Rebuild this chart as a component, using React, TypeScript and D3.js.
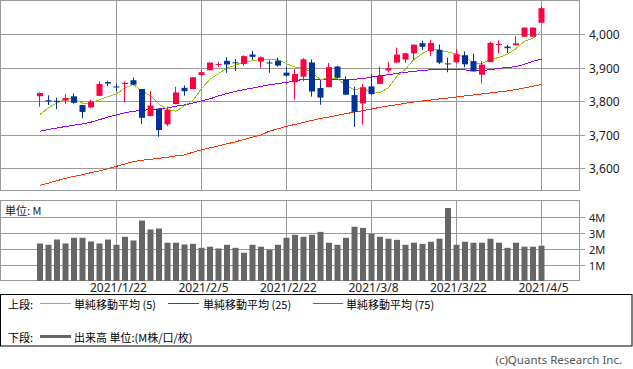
import React from "react";
import * as d3 from "d3";

const dates = ["1/8","1/11","1/12","1/13","1/14","1/15","1/19","1/20","1/21","1/22","1/25","1/26","1/27","1/28","1/29","2/1","2/2","2/3","2/4","2/5","2/8","2/9","2/10","2/11","2/12","2/16","2/17","2/18","2/19","2/22","2/23","2/24","2/25","2/26","3/1","3/2","3/3","3/4","3/5","3/8","3/9","3/10","3/11","3/12","3/15","3/16","3/17","3/18","3/19","3/22","3/23","3/24","3/25","3/26","3/29","3/30","3/31","4/1","4/2","4/5"];

const opens = [3815.05,3803.14,3801.62,3802.23,3814.98,3788.73,3781.88,3816.22,3857.46,3844.24,3851.68,3862.96,3836.83,3755.75,3778.05,3731.17,3791.84,3840.27,3836.66,3878.30,3892.59,3910.49,3920.78,3916.40,3911.65,3939.61,3918.50,3915.86,3921.16,3885.55,3857.07,3873.71,3915.80,3839.66,3842.51,3903.64,3863.99,3818.53,3793.58,3844.39,3851.93,3891.99,3915.54,3924.52,3942.96,3973.59,3949.57,3953.50,3913.14,3916.48,3937.60,3919.93,3879.34,3917.12,3969.31,3963.34,3967.25,3992.78,3992.78,4034.44];
const highs = [3826.69,3817.86,3810.78,3820.96,3823.60,3788.73,3804.53,3859.75,3861.45,3852.31,3859.23,3870.90,3836.83,3830.50,3778.05,3784.32,3843.09,3847.51,3872.42,3894.56,3915.77,3918.35,3931.50,3925.99,3937.23,3950.43,3933.61,3921.98,3930.41,3902.92,3895.98,3928.65,3925.02,3861.08,3914.50,3906.41,3874.47,3843.67,3851.69,3881.06,3903.76,3917.35,3960.27,3944.99,3970.08,3981.04,3983.87,3969.62,3930.12,3955.31,3949.13,3942.08,3919.54,3978.19,3981.83,3968.01,3994.41,4020.63,4020.63,4083.42];
const lows = [3783.60,3789.02,3776.51,3791.50,3792.86,3749.62,3780.37,3816.22,3845.05,3830.41,3797.16,3847.78,3732.48,3755.75,3694.12,3725.62,3791.84,3816.68,3836.66,3874.93,3892.59,3902.64,3884.94,3890.39,3905.78,3923.85,3900.43,3885.03,3903.07,3874.71,3805.59,3859.60,3814.04,3789.54,3842.51,3868.57,3818.86,3723.34,3730.19,3819.25,3851.93,3885.73,3915.54,3915.21,3923.54,3953.44,3935.74,3910.86,3886.75,3914.16,3901.57,3889.06,3853.50,3917.12,3943.25,3944.35,3966.98,3992.78,3992.78,4034.44];
const closes = [3824.68,3799.61,3801.19,3809.84,3795.54,3768.25,3798.91,3851.85,3853.07,3841.47,3855.36,3849.62,3750.77,3787.38,3714.24,3773.86,3826.31,3830.17,3871.74,3886.83,3915.59,3911.23,3909.88,3916.38,3934.83,3932.59,3931.33,3913.97,3906.71,3876.50,3881.37,3925.43,3829.34,3811.15,3901.82,3870.29,3819.72,3768.47,3841.94,3821.35,3875.44,3898.81,3939.34,3943.34,3968.94,3962.71,3974.12,3915.46,3913.10,3940.59,3910.52,3889.14,3909.52,3974.54,3971.09,3958.55,3972.89,4019.87,4019.87,4077.91];

const ma5 = [3760.8,3780.6,3795.5,3807.8,3806.2,3794.9,3794.7,3804.9,3813.5,3822.7,3840.1,3850.3,3830.1,3816.9,3791.5,3775.2,3770.5,3786.4,3803.3,3837.8,3866.1,3883.1,3899.1,3908.0,3917.6,3921.0,3925.0,3925.8,3923.9,3912.2,3902.0,3900.8,3883.9,3864.8,3869.8,3867.6,3846.5,3834.3,3840.4,3824.4,3825.4,3841.2,3875.4,3895.7,3925.2,3942.6,3957.7,3952.9,3946.9,3941.2,3930.8,3913.8,3912.6,3924.9,3931.0,3940.6,3957.3,3979.4,3988.5,4009.8];
const ma25 = [3710.8,3716.1,3720.2,3724.9,3728.6,3732.4,3737.7,3745.2,3753.4,3759.3,3765.5,3770.6,3772.2,3775.9,3777.0,3780.3,3785.3,3789.1,3794.9,3801.0,3807.4,3815.9,3823.2,3829.9,3835.1,3839.5,3844.7,3849.2,3853.1,3856.4,3860.9,3865.9,3865.0,3863.4,3865.8,3866.4,3865.2,3865.9,3868.1,3872.4,3876.4,3879.3,3883.7,3886.5,3889.8,3891.7,3894.2,3894.5,3894.3,3894.6,3893.7,3892.0,3891.8,3894.5,3898.3,3901.4,3903.3,3910.9,3919.3,3926.3];
const ma75 = [3549.5,3556,3563,3570,3576,3581,3587,3592,3599,3606,3613,3620,3624,3627,3630,3633,3637,3640,3648,3655,3661,3667,3673,3679,3686,3693,3699,3711,3718,3725,3731,3737,3743,3749,3753,3758,3763,3768,3772,3777,3782,3786,3790,3794,3798,3801,3804,3807,3810,3813,3816,3819,3822,3825,3828,3831,3835,3840,3845,3850];

const volumes = [2.35,2.27,2.6,2.35,2.71,2.71,2.48,2.35,2.6,2.27,2.77,2.54,3.79,3.23,3.29,2.4,2.4,2.29,2.33,2.08,2.15,2.04,2.27,2.08,1.77,2.27,2.15,1.96,2.27,2.71,2.9,2.77,2.9,3.08,2.4,2.27,2.71,3.4,3.33,2.96,2.77,2.65,2.58,2.27,2.4,2.33,2.46,2.65,4.58,2.27,2.46,2.4,2.4,2.65,2.4,2.08,2.4,2.15,2.15,2.21];

const priceTicks = [3600, 3700, 3800, 3900, 4000];
const volTicks = [1, 2, 3, 4];
const dateTickIdx = [9, 19, 29, 39, 49, 59];
const dateTickLabels = ["2021/1/22", "2021/2/5", "2021/2/22", "2021/3/8", "2021/3/22", "2021/4/5"];

const UP = "#ff0040";
const DOWN = "#003399";
const GRID = "#999999";
const MA5C = "#99cc00";
const MA25C = "#9900ff";
const MA75C = "#ff3300";
const VOLC = "#666666";
const LATIN = "'Noto Sans', 'Noto Sans CJK JP', sans-serif";
const CJK = "'Noto Sans CJK JP', 'Noto Sans', sans-serif";

export default function App() {
  const x = d3.scalePoint<string>().domain(dates).range([40, 541.5]);
  const y = d3.scaleLinear().domain([3600, 4000]).range([168.3, 34.3]);
  const yv = d3.scaleLinear().domain([0, 4]).range([281, 217.2]);
  const px = (i: number) => x(dates[i]) as number;

  const line = (arr: number[]) =>
    d3.line<number>().x((_, i) => px(i)).y((d) => y(d))(arr) || "";

  const bodyW = 6;

  return (
    <svg
      width={633}
      height={369}
      style={{ position: "absolute", left: 0, top: 0, background: "#fff" }}
    >
      <rect x={0} y={0} width={633} height={369} fill="#fff" />
      {priceTicks.map((t) => {
        const yy = Math.round(y(t)) + 0.5;
        return (
          <g key={"pt" + t}>
            <line x1={0.5} x2={585} y1={yy} y2={yy} stroke={GRID} strokeWidth={1} />
            <text x={589} y={yy} dominantBaseline="central" fontFamily={LATIN} fontSize={12} fill="#222">
              {d3.format(",")(t)}
            </text>
          </g>
        );
      })}
      {dateTickIdx.map((i) => {
        const xx = Math.floor(px(i)) + 0.5;
        return (
          <g key={"dt" + i}>
            <line x1={xx} x2={xx} y1={0.5} y2={190.5} stroke={GRID} strokeWidth={1} />
            <line x1={xx} x2={xx} y1={200.5} y2={280.5} stroke={GRID} strokeWidth={1} />
          </g>
        );
      })}
      <rect x={0.5} y={0.5} width={579} height={190} fill="none" stroke={GRID} strokeWidth={1} />

      <path d={line(ma75)} fill="none" stroke={MA75C} strokeWidth={1} shapeRendering="crispEdges" />
      <path d={line(ma25)} fill="none" stroke={MA25C} strokeWidth={1} shapeRendering="crispEdges" />
      <path d={line(ma5)} fill="none" stroke={MA5C} strokeWidth={1} shapeRendering="crispEdges" />

      {dates.map((d, i) => {
        const o = opens[i], c = closes[i], h = highs[i], l = lows[i];
        const col = c >= o ? UP : DOWN;
        const cx = px(i);
        const top = y(Math.max(o, c));
        const bot = y(Math.min(o, c));
        const hgt = Math.max(1, bot - top);
        const wx = Math.floor(cx - 0.5) + 0.5;
        return (
          <g key={"c" + d}>
            <line x1={wx} x2={wx} y1={y(h)} y2={y(l)} stroke={col} strokeWidth={1} />
            <rect x={cx - bodyW / 2} y={top} width={bodyW} height={hgt} fill={col} />
          </g>
        );
      })}

      {volTicks.map((t) => {
        const yy = Math.round(yv(t)) + 0.5;
        return (
          <g key={"vt" + t}>
            <line x1={0.5} x2={585} y1={yy} y2={yy} stroke={GRID} strokeWidth={1} />
            <text x={589} y={yy} dominantBaseline="central" fontFamily={LATIN} fontSize={11} fill="#222">
              {t + "M"}
            </text>
          </g>
        );
      })}
      <rect x={0.5} y={200.5} width={579} height={80} fill="none" stroke={GRID} strokeWidth={1} />
      {volumes.map((v, i) => (
        <rect key={"v" + i} x={px(i) - 3} y={yv(v)} width={6} height={yv(0) - yv(v)} fill={VOLC} />
      ))}
      <text x={5} y={210} dominantBaseline="central" fontFamily={CJK} fontSize={11} fill="#222">
        単位: M
      </text>

      {dateTickIdx.map((i, k) => (
        <text
          key={"dl" + i}
          x={px(i) + 2}
          y={287.5}
          textAnchor="middle"
          dominantBaseline="central"
          fontFamily={LATIN}
          fontSize={12}
          fill="#222"
        >
          {dateTickLabels[k]}
        </text>
      ))}

      <rect x={0.5} y={294.5} width={631.5} height={51.5} fill="none" stroke="#000" strokeWidth={1} />
      <text x={8} y={304} dominantBaseline="central" fontFamily={CJK} fontSize={11} fill="#000">
        上段:
      </text>
      <line x1={40} x2={71} y1={303.5} y2={303.5} stroke={MA5C} strokeWidth={1} />
      <text x={74} y={304} dominantBaseline="central" fontFamily={CJK} fontSize={11} fill="#000">
        単純移動平均 (5)
      </text>
      <line x1={168} x2={199} y1={303.5} y2={303.5} stroke={MA25C} strokeWidth={1} />
      <text x={203} y={304} dominantBaseline="central" fontFamily={CJK} fontSize={11} fill="#000">
        単純移動平均 (25)
      </text>
      <line x1={313} x2={343} y1={303.5} y2={303.5} stroke={MA75C} strokeWidth={1} />
      <text x={346} y={304} dominantBaseline="central" fontFamily={CJK} fontSize={11} fill="#000">
        単純移動平均 (75)
      </text>
      <text x={8} y={337} dominantBaseline="central" fontFamily={CJK} fontSize={11} fill="#000">
        下段:
      </text>
      <line x1={40} x2={71} y1={336.5} y2={336.5} stroke={VOLC} strokeWidth={3} />
      <text x={74} y={337} dominantBaseline="central" fontFamily={CJK} fontSize={11} fill="#000">
        出来高 単位:(M株/口/枚)
      </text>

      <text
        x={622}
        y={359}
        textAnchor="end"
        dominantBaseline="central"
        fontFamily={LATIN}
        fontSize={11.5}
        fill="#555"
      >
        (c)Quants Research Inc.
      </text>
    </svg>
  );
}
